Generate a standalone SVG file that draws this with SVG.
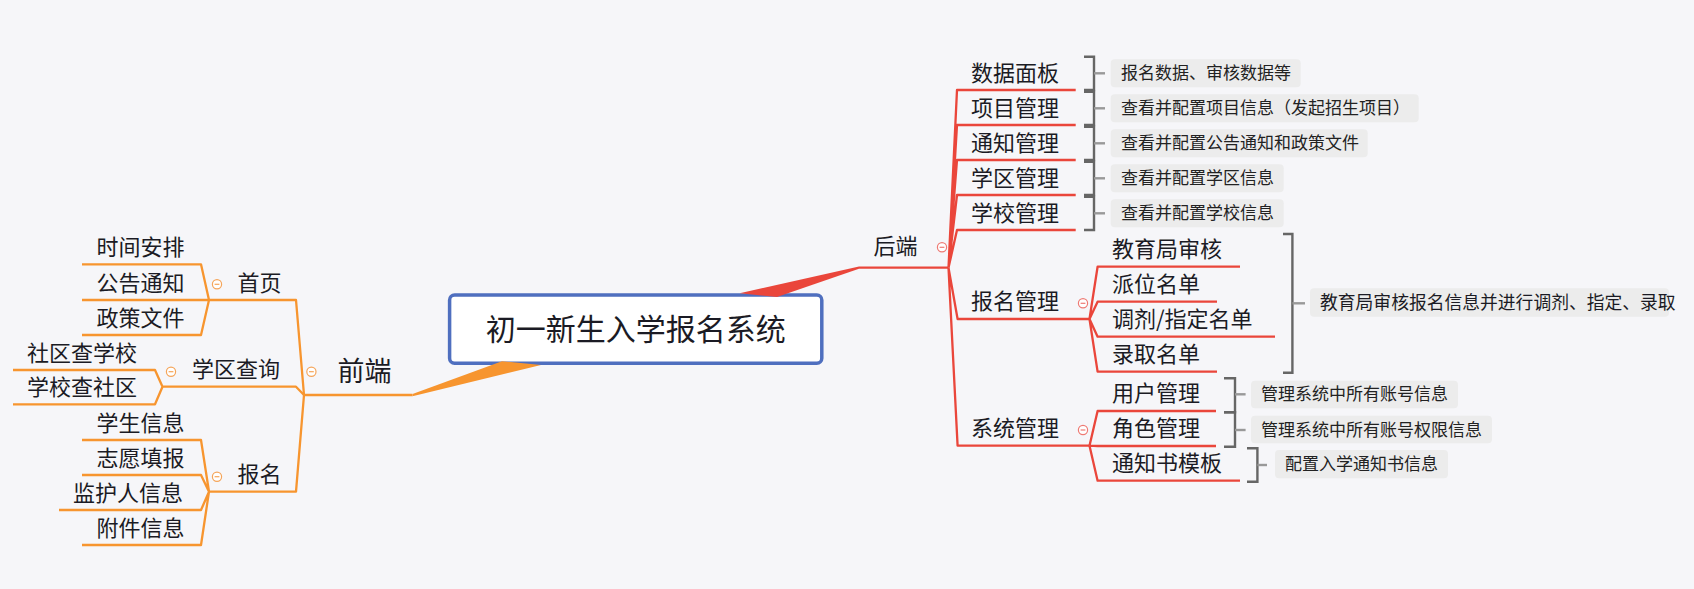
<svg xmlns="http://www.w3.org/2000/svg" width="1694" height="589" viewBox="0 0 1694 589">
<style>
text{font-family:"Noto Sans CJK SC","Noto Sans",sans-serif;fill:#1b1b24}
.t22{font-size:22px}
.sm{font-size:17px;fill:#222}
.lo{fill:none;stroke:#f7952f;stroke-width:2.3;stroke-linejoin:round}
.lr{fill:none;stroke:#ea463b;stroke-width:2.3;stroke-linejoin:round}
.br{fill:none;stroke:#666;stroke-width:2.4}
.tk{fill:none;stroke:#999;stroke-width:2.4}
.sum{fill:#ececec}
.co{fill:#fff;stroke:#f5a55a;stroke-width:1.2}
.cr{fill:#fff;stroke:#ee7a74;stroke-width:1.2}
</style>
<rect x="0" y="0" width="1694" height="589" fill="#f6f6f9"/>

<g id="connectors">
  <path class="lo" d="M82,264.3 H201 L209,300 M82,300 H209 M82,335 H201 L209,300 M209,300 H296 L304,395"/>
  <path class="lo" d="M13,370 H155 L162.5,386.7 M13,404.3 H155 L162.5,386.7 M162.5,386.7 H296 L304,395"/>
  <path class="lo" d="M82,440 H201 L209,491.7 M82,475 H201 L209,491.7 M59,510 H201 L209,491.7 M82,545 H201 L209,491.7 M209,491.7 H296 L304,395"/>
  <path class="lo" d="M304,395 H412.5"/>
  <path class="lr" d="M859,267.7 H948.5"/>
  <path class="lr" d="M948.5,267.7 L957,90 H1075.7 M948.5,267.7 L957,125 H1075.7 M948.5,267.7 L957,160 H1075.7 M948.5,267.7 L957,195 H1075.7 M948.5,267.7 L957,230 H1075.7"/>
  <path class="lr" d="M948.5,267.7 L957.6,319 H1089.5 M948.5,267.7 L957.6,445.7 H1089.5"/>
  <path class="lr" d="M1089.5,319 L1097.6,266.7 H1240 M1089.5,319 L1097.6,301.7 H1217 M1089.5,319 L1097.6,336.7 H1275 M1089.5,319 L1097.6,371.7 H1217"/>
  <path class="lr" d="M1089.5,445.7 L1097.6,411 H1216 M1089.5,445.7 L1097.6,446 H1216 M1089.5,445.7 L1097.6,480.7 H1240"/>
</g>

<g id="root">
  <rect x="449.6" y="295" width="372.2" height="68.3" rx="5" fill="#fff" stroke="#4f6fbf" stroke-width="3.5"/>
  <text x="635.7" y="340" font-size="30" text-anchor="middle">初一新生入学报名系统</text>
</g>
<polygon id="wedge-front" points="412.5,394 502,361.3 541,365 412.5,396.3" fill="#f7952f"/>
<polygon id="wedge-back" points="859,266.6 739.6,293.2 777,297 859,268.8" fill="#ea463b"/>

<g id="n-qianduan"><text x="337.5" y="381" font-size="27">前端</text><circle class="co" cx="311.4" cy="371.7" r="4.6"/><path class="co" d="M309,371.7 H313.8"/></g>
<g id="n-shouye"><text class="t22" x="237.5" y="291">首页</text><circle class="co" cx="217" cy="284.3" r="4.6"/><path class="co" d="M214.6,284.3 H219.4"/></g>
<g id="n-xuequchaxun"><text class="t22" x="192" y="377">学区查询</text><circle class="co" cx="171" cy="371.7" r="4.6"/><path class="co" d="M168.6,371.7 H173.4"/></g>
<g id="n-baoming"><text class="t22" x="237.5" y="482">报名</text><circle class="co" cx="217" cy="476.7" r="4.6"/><path class="co" d="M214.6,476.7 H219.4"/></g>
<g id="n-shijian"><text class="t22" x="96.4" y="255">时间安排</text></g>
<g id="n-gonggao"><text class="t22" x="96.4" y="290.5">公告通知</text></g>
<g id="n-zhengce"><text class="t22" x="96.4" y="325.5">政策文件</text></g>
<g id="n-shequcha"><text class="t22" x="27" y="360.5">社区查学校</text></g>
<g id="n-xuexiaocha"><text class="t22" x="27" y="395">学校查社区</text></g>
<g id="n-xuesheng"><text class="t22" x="96.4" y="430.5">学生信息</text></g>
<g id="n-zhiyuan"><text class="t22" x="96.4" y="465.5">志愿填报</text></g>
<g id="n-jianhuren"><text class="t22" x="73" y="500.5">监护人信息</text></g>
<g id="n-fujian"><text class="t22" x="96.4" y="535.5">附件信息</text></g>

<g id="n-houduan"><text class="t22" x="873.6" y="254">后端</text><circle class="cr" cx="942" cy="247.3" r="4.6"/><path class="cr" d="M939.6,247.3 H944.4"/></g>
<g id="n-shuju"><text class="t22" x="971" y="80.5">数据面板</text>
  <path class="br" d="M1084,56.7 H1094 V90 H1084"/><path class="tk" d="M1094,73.3 H1105"/>
  <rect class="sum" x="1110.7" y="59.3" width="190" height="28" rx="4"/><text class="sm" x="1121" y="78.8">报名数据、审核数据等</text></g>
<g id="n-xiangmu"><text class="t22" x="971" y="115.5">项目管理</text>
  <path class="br" d="M1084,91.7 H1094 V125 H1084"/><path class="tk" d="M1094,108.3 H1105"/>
  <rect class="sum" x="1110.7" y="94.3" width="308" height="28" rx="4"/><text class="sm" x="1121" y="113.8">查看并配置项目信息（发起招生项目）</text></g>
<g id="n-tongzhi"><text class="t22" x="971" y="150.5">通知管理</text>
  <path class="br" d="M1084,126.7 H1094 V160 H1084"/><path class="tk" d="M1094,143.3 H1105"/>
  <rect class="sum" x="1110.7" y="129.3" width="257" height="28" rx="4"/><text class="sm" x="1121" y="148.8">查看并配置公告通知和政策文件</text></g>
<g id="n-xuequ"><text class="t22" x="971" y="185.5">学区管理</text>
  <path class="br" d="M1084,161.7 H1094 V195 H1084"/><path class="tk" d="M1094,178.3 H1105"/>
  <rect class="sum" x="1110.7" y="164.3" width="173" height="28" rx="4"/><text class="sm" x="1121" y="183.8">查看并配置学区信息</text></g>
<g id="n-xuexiao"><text class="t22" x="971" y="220.5">学校管理</text>
  <path class="br" d="M1084,196.7 H1094 V230 H1084"/><path class="tk" d="M1094,213.3 H1105"/>
  <rect class="sum" x="1110.7" y="199.3" width="173" height="28" rx="4"/><text class="sm" x="1121" y="218.8">查看并配置学校信息</text></g>
<g id="n-baomingguanli"><text class="t22" x="971" y="309">报名管理</text><circle class="cr" cx="1083" cy="303.3" r="4.6"/><path class="cr" d="M1080.6,303.3 H1085.4"/>
  <path class="br" d="M1283,234 H1292.4 V372.7 H1283"/><path class="tk" d="M1292.4,303.3 H1305"/>
  <rect class="sum" x="1310" y="288.3" width="359" height="28.4" rx="4"/><text x="1320" y="309" font-size="17.8" fill="#222">教育局审核报名信息并进行调剂、指定、录取</text></g>
<g id="n-jiaoyuju"><text class="t22" x="1112" y="257">教育局审核</text></g>
<g id="n-paiwei"><text class="t22" x="1112" y="292">派位名单</text></g>
<g id="n-tiaoji"><text class="t22" x="1112" y="327">调剂/指定名单</text></g>
<g id="n-luqu"><text class="t22" x="1112" y="362">录取名单</text></g>
<g id="n-xitong"><text class="t22" x="971" y="436">系统管理</text><circle class="cr" cx="1083" cy="430" r="4.6"/><path class="cr" d="M1080.6,430 H1085.4"/></g>
<g id="n-yonghu"><text class="t22" x="1112" y="401">用户管理</text>
  <path class="br" d="M1224,378.3 H1235 V412.3 H1224"/><path class="tk" d="M1235,394.3 H1245.6"/>
  <rect class="sum" x="1251" y="380.7" width="207" height="27.6" rx="4"/><text class="sm" x="1261" y="400.3">管理系统中所有账号信息</text></g>
<g id="n-juese"><text class="t22" x="1112" y="436">角色管理</text>
  <path class="br" d="M1224,412.3 H1235 V446.7 H1224"/><path class="tk" d="M1235,430 H1245.6"/>
  <rect class="sum" x="1251" y="415.7" width="241" height="27.6" rx="4"/><text class="sm" x="1261" y="435.5">管理系统中所有账号权限信息</text></g>
<g id="n-tongzhishu"><text class="t22" x="1112" y="471">通知书模板</text>
  <path class="br" d="M1247,448.3 H1257.4 V481.7 H1247"/><path class="tk" d="M1257.4,465 H1267"/>
  <rect class="sum" x="1275" y="450" width="173" height="28.3" rx="4"/><text class="sm" x="1285" y="470">配置入学通知书信息</text></g>
</svg>
